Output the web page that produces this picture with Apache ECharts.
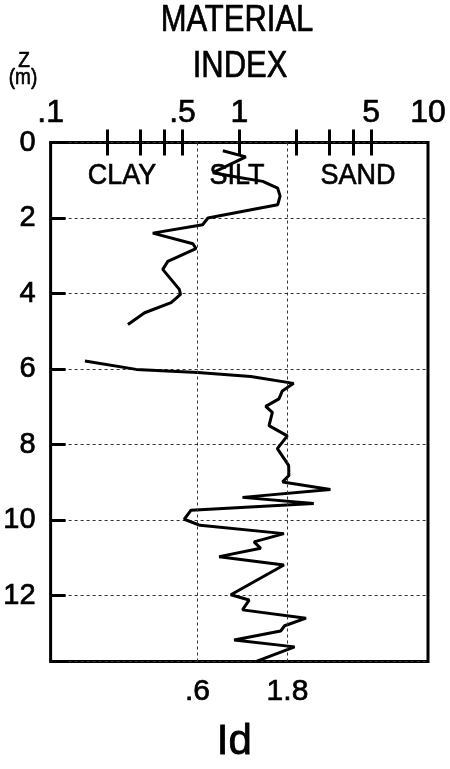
<!DOCTYPE html>
<html>
<head>
<meta charset="utf-8">
<script src="https://cdn.jsdelivr.net/npm/echarts@6/dist/echarts.min.js"></script>
<style>
html,body{margin:0;padding:0;background:#fff;}
#chart{width:450px;height:769px;}
</style>
</head>
<body>
<div id="chart"></div>
<script>
// Upper (clay) segment
var idUpper = [0.818, 1.082, 0.725, 0.982, 1.331, 1.597, 1.645, 1.597, 1.252, 0.682, 0.639, 0.348, 0.568, 0.589, 0.418, 0.393, 0.481, 0.488, 0.435, 0.315, 0.257];
var depthUpper = [0.22, 0.38, 0.80, 0.92, 1.03, 1.21, 1.42, 1.65, 1.75, 2.00, 2.18, 2.40, 2.68, 2.81, 3.15, 3.36, 3.89, 4.02, 4.24, 4.51, 4.82];
// Lower segment
var idLower = [0.152, 0.284, 0.602, 1.15, 1.94, 1.69, 1.622, 1.38, 1.497, 1.437, 1.796, 1.591, 1.825, 1.832, 1.696, 3.04, 1.04, 2.48, 0.555, 0.511, 0.619, 1.724, 1.197, 1.299, 0.782, 1.724, 0.902, 1.127, 1.04, 2.257, 1.739, 1.656, 0.939, 1.963, 1.222];
var depthLower = [5.79, 6.01, 6.09, 6.20, 6.38, 6.58, 6.79, 6.99, 7.15, 7.50, 7.77, 8.11, 8.55, 8.82, 8.99, 9.19, 9.40, 9.56, 9.74, 9.98, 10.14, 10.36, 10.58, 10.75, 10.97, 11.19, 11.98, 12.12, 12.38, 12.60, 12.80, 12.94, 13.18, 13.36, 13.75];

var topTickLabels = [0.1, 0.5, 1, 5, 10];
var bottomTickLabels = [0.6, 1.8];
var minorTicks = [0.2, 0.3, 0.4, 0.5, 1, 2, 3, 4, 5];
var boundaries = [0.6, 1.8];
var zoneNames = ['CLAY', 'SILT', 'SAND'];

var data = [];
for (var i = 0; i < idUpper.length; i++) data.push([idUpper[i], depthUpper[i]]);
data.push(['-', '-']);
for (var j = 0; j < idLower.length; j++) data.push([idLower[j], depthLower[j]]);

function fmtNum(v) {
  var s = String(Math.round(v * 100) / 100);
  if (s.indexOf('0.') === 0) s = s.substring(1);
  return s;
}

var FONT = 'Liberation Sans, Arial, sans-serif';
function txt(text, size, x, y, sy) {
  return {type: 'text', x: x, y: y, scaleY: sy || 1.12,
    style: {text: text, font: size + 'px ' + FONT, fill: '#000', x: 0, y: 0, align: 'center', verticalAlign: 'middle',
      stroke: '#000', lineWidth: 0.6}};
}
var chart = echarts.init(document.getElementById('chart'), null, {renderer: 'canvas'});
var option = {
  animation: false,
  backgroundColor: '#fff',
  grid: {left: 49, right: 22, top: 142.5, bottom: 105.5, show: true, borderColor: '#000', borderWidth: 3, backgroundColor: 'transparent'},
  xAxis: [{
    type: 'log', logBase: 10, min: 0.1, max: 10, position: 'bottom',
    axisLine: {show: false},
    axisTick: {show: true, inside: true, length: 13, customValues: minorTicks, lineStyle: {color: '#000', width: 3}},
    axisLabel: {show: true, customValues: bottomTickLabels, formatter: fmtNum, margin: 15, color: '#000', fontSize: 30, fontFamily: FONT, textBorderColor: '#000', textBorderWidth: 0.7},
    splitLine: {show: false},
    name: 'Id', nameLocation: 'middle', nameGap: 60,
    nameTextStyle: {color: '#000', fontSize: 42, fontFamily: FONT, padding: [0, 10, 0, 0], textBorderColor: '#000', textBorderWidth: 0.8}
  }, {
    type: 'log', logBase: 10, min: 0.1, max: 10, position: 'top',
    axisLine: {show: false},
    axisTick: {show: true, inside: true, length: 13, customValues: minorTicks, lineStyle: {color: '#000', width: 3}},
    axisLabel: {show: true, customValues: topTickLabels, formatter: fmtNum, margin: 13, color: '#000', fontSize: 32, fontFamily: FONT, textBorderColor: '#000', textBorderWidth: 0.7},
    splitLine: {show: false}
  }],
  yAxis: {
    type: 'value', inverse: true, min: 0, max: 13.75, interval: 2,
    axisLine: {show: false},
    axisTick: {show: true, inside: true, length: 15, lineStyle: {color: '#000', width: 3}},
    axisLabel: {
      color: '#000', fontSize: 29, fontFamily: FONT, margin: 15, textBorderColor: '#000', textBorderWidth: 0.7,
      formatter: function (v) { return (Math.abs(v - Math.round(v)) < 1e-6) ? String(v) : ''; }
    },
    splitLine: {show: true, lineStyle: {color: '#333', width: 1, type: [3, 3]}}
  },
  series: [{
    type: 'line', xAxisIndex: 0, yAxisIndex: 0,
    data: data, showSymbol: false, connectNulls: false,
    lineStyle: {color: '#000', width: 3}, clip: true,
    markLine: {
      silent: true, symbol: 'none', label: {show: false},
      lineStyle: {color: '#333', width: 1, type: [3, 3]},
      data: boundaries.map(function (b) { return {xAxis: b}; })
    }
  }],
  graphic: [
    txt('MATERIAL', 31, 237, 21, 1.18),
    txt('INDEX', 31, 240, 67, 1.18),
    txt('Z', 19, 24, 61, 1.12),
    txt('(m)', 19, 23, 78, 1.12),
    txt(zoneNames[0], 27, 122, 176, 1.08),
    txt(zoneNames[1], 27, 237, 176, 1.08),
    txt(zoneNames[2], 27, 358, 176, 1.08)
  ]
};
chart.setOption(option);
</script>
</body>
</html>
